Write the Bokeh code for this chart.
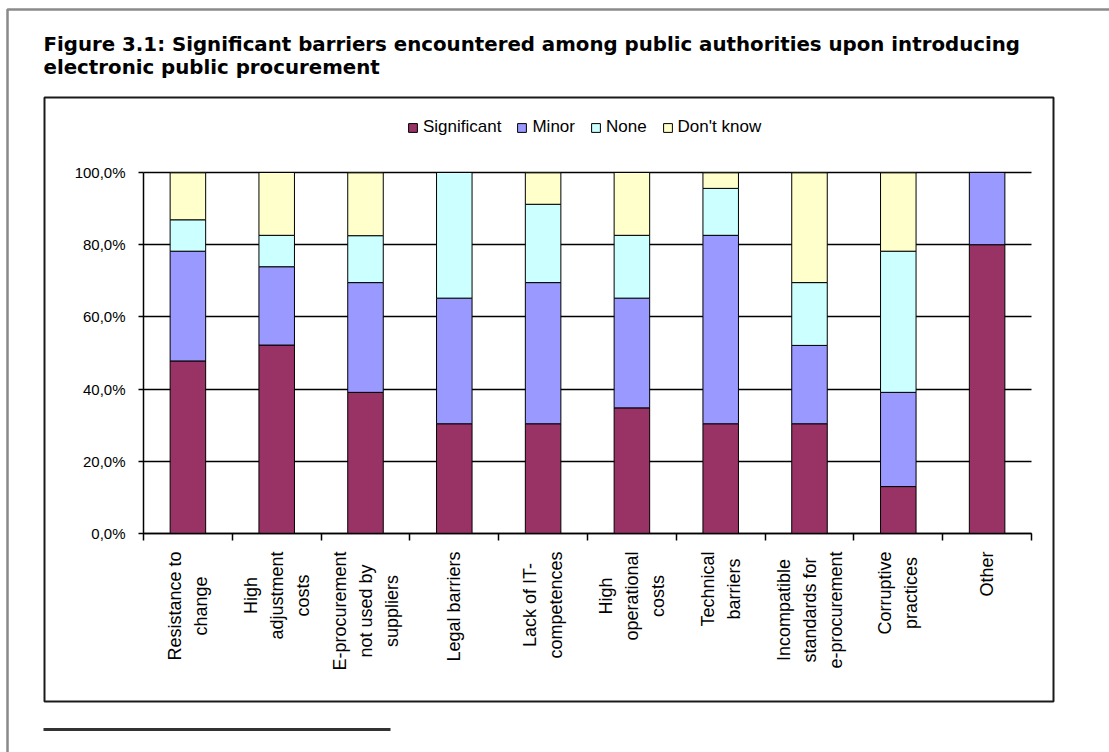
import math
from bokeh.plotting import figure
from bokeh.models import (ColumnDataSource, Range1d, FixedTicker, Legend, LegendItem,
                          Label, BoxAnnotation)
from bokeh.embed import file_html
from bokeh.resources import INLINE

# ---------------- data ----------------
categories = [
    "Resistance to\nchange",
    "High\nadjustment\ncosts",
    "E-procurement\nnot used by\nsuppliers",
    "Legal barriers",
    "Lack of IT-\ncompetences",
    "High\noperational\ncosts",
    "Technical\nbarriers",
    "Incompatible\nstandards for\ne-procurement",
    "Corruptive\npractices",
    "Other",
]
series_names = ["Significant", "Minor", "None", "Don't know"]
significant = [47.8, 52.2, 39.1, 30.4, 30.4, 34.8, 30.4, 30.4, 13.0, 80.0]
minor = [30.4, 21.7, 30.4, 34.8, 39.1, 30.4, 52.2, 21.7, 26.1, 20.0]
none = [8.7, 8.7, 13.0, 34.8, 21.7, 17.4, 13.0, 17.4, 39.1, 0.0]
dont_know = [13.0, 17.4, 17.4, 0.0, 8.7, 17.4, 4.3, 30.4, 21.7, 0.0]
y_ticks = [0, 20, 40, 60, 80, 100]
y_tick_labels = ["0,0%", "20,0%", "40,0%", "60,0%", "80,0%", "100,0%"]
colors = ["#993366", "#9999FF", "#CCFFFF", "#FFFFCC"]

title_lines = [
    "Figure 3.1: Significant barriers encountered among public authorities upon introducing",
    "electronic public procurement",
]

# ---------------- layout constants (pixels) ----------------
W, H = 1109, 752
PL, PR, PT, PB = 143, 1031, 172, 533      # plot area in page pixels
n = len(categories)
ux = (PR - PL) / n                        # px per category
uy = (PB - PT) / 100.0                    # px per percent

x_pos = [i + 0.5 for i in range(n)]
src = ColumnDataSource(dict(x=x_pos, **{
    "Significant": significant, "Minor": minor, "None": none, "Don't know": dont_know}))

p = figure(width=W, height=H,
           x_range=Range1d(-PL / ux, n + (W - PR) / ux),
           y_range=Range1d(-(H - PB) / uy, 100 + PT / uy),
           output_backend="svg", toolbar_location=None, min_border=0)
p.outline_line_color = None
p.background_fill_color = "white"
p.border_fill_color = "white"

# grid
p.xgrid.visible = False
p.ygrid.ticker = FixedTicker(ticks=y_ticks)
p.ygrid.bounds = (0, 100)
p.ygrid.cross_bounds = (0, n)
p.ygrid.grid_line_color = "black"
p.ygrid.grid_line_width = 1.5

renderers = p.vbar_stack(series_names, x="x", width=0.4, source=src,
                         fill_color=colors, line_color="black", line_width=1)

# legend (frame covers the whole page; location is from bottom-left)
legend = Legend(items=[LegendItem(label=nm, renderers=[r]) for nm, r in zip(series_names, renderers)],
                orientation="horizontal", location=(407, H - 137),
                glyph_width=11, glyph_height=11, label_standoff=5, spacing=15,
                padding=0, margin=0, border_line_color=None, background_fill_alpha=0,
                label_text_font="Liberation Sans", label_text_font_size="17px",
                label_text_color="black")
p.add_layout(legend, "center")

# y axis drawn at x = 0
p.yaxis.fixed_location = 0
p.yaxis.bounds = (0, 100)
p.yaxis.ticker = FixedTicker(ticks=y_ticks)
p.yaxis.major_label_overrides = {t: l for t, l in zip(y_ticks, y_tick_labels)}
p.yaxis.axis_line_color = "black"
p.yaxis.axis_line_width = 1.5
p.yaxis.major_tick_line_color = "black"
p.yaxis.major_tick_line_width = 1.5
p.yaxis.major_tick_out = 5
p.yaxis.major_tick_in = 0
p.yaxis.minor_tick_line_color = None
p.yaxis.major_label_text_font = "Liberation Sans"
p.yaxis.major_label_text_font_size = "15px"
p.yaxis.major_label_text_color = "black"
p.yaxis.major_label_standoff = 13

# x axis drawn at y = 0, ticks at category boundaries
p.xaxis.fixed_location = 0
p.xaxis.bounds = (0, n)
p.xaxis.ticker = FixedTicker(ticks=list(range(n + 1)))
p.xaxis.major_label_text_color = None
p.xaxis.axis_line_color = "black"
p.xaxis.axis_line_width = 1.5
p.xaxis.major_tick_line_color = "black"
p.xaxis.major_tick_line_width = 1.5
p.xaxis.major_tick_out = 7
p.xaxis.major_tick_in = 0
p.xaxis.minor_tick_line_color = None

# category labels, rotated, centred lines, top end just below the axis
for xc, cat in zip(x_pos, categories):
    p.add_layout(Label(x=xc, y=H - 551, x_units="data", y_units="screen", text=cat,
                       angle=math.pi / 2, anchor="center_right", text_align="center",
                       text_baseline="middle", text_line_height=1.3,
                       text_font="Liberation Sans", text_font_size="18px",
                       text_color="black"))

# ---------------- decorations ----------------
def sbox(left, right, top, bottom, **kw):
    return BoxAnnotation(left=left, right=right, top=H - top, bottom=H - bottom,
                         left_units="screen", right_units="screen",
                         top_units="screen", bottom_units="screen", **kw)

p.add_layout(sbox(7, W + 50, 9, H + 50, fill_alpha=0, line_color="#8a8a8a",
                  line_alpha=1, line_width=2.5))
p.add_layout(sbox(44, 1053, 97, 701, fill_alpha=0, line_color="#1a1a1a",
                  line_alpha=1, line_width=2))
p.add_layout(sbox(43, 390, 727.5, 730.5, fill_color="#333333", fill_alpha=1,
                  line_color=None))

for txt, yb in zip(title_lines, [44, 67]):
    p.add_layout(Label(x=43, y=H - yb, x_units="screen", y_units="screen", text=txt,
                       text_font="DejaVu Sans", text_font_style="bold",
                       text_font_size="19.8px", text_color="black",
                       text_baseline="alphabetic"))

open("out.html", "w").write(file_html(p, INLINE))
